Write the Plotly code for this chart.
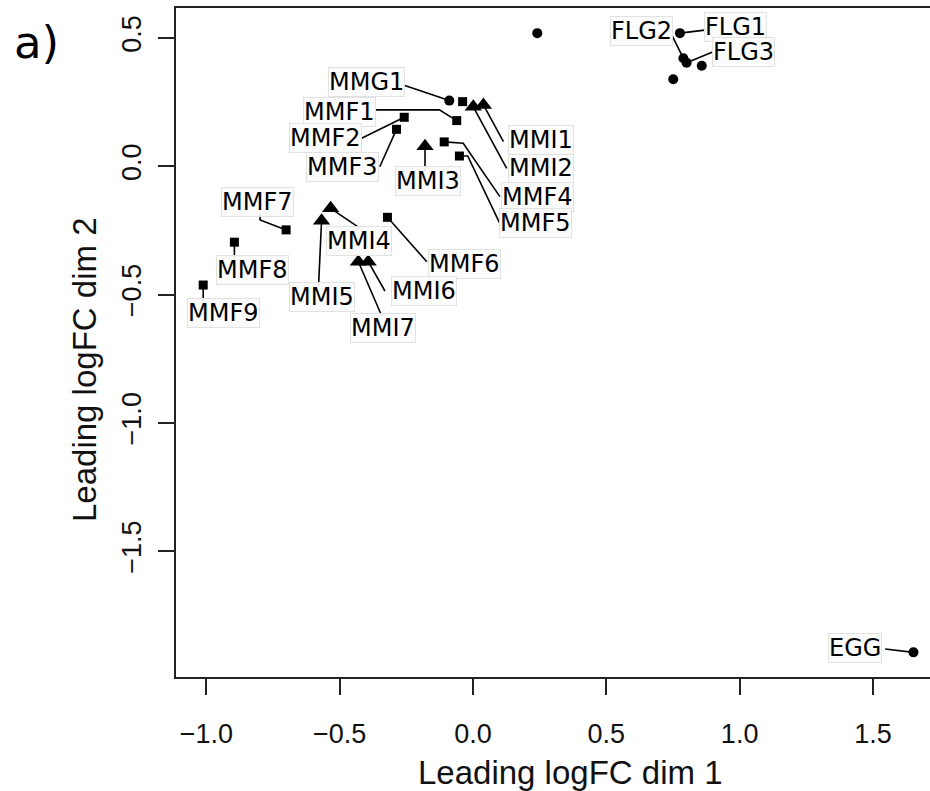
import plotly.graph_objects as go

# ---------------- data ----------------
labels = ["MMG1", "", "MMI2", "MMI1", "MMF1", "MMI3", "MMF4", "MMF5", "MMF2", "MMF3",
          "MMI4", "MMI5", "MMF6", "MMI7", "MMI6", "MMF7", "MMF8", "MMF9",
          "", "FLG1", "FLG2", "FLG3", "", "", "EGG"]
dim1 = [-0.089, -0.039, 0.001, 0.039, -0.061, -0.180, -0.108, -0.051, -0.258, -0.287,
        -0.534, -0.568, -0.321, -0.430, -0.393, -0.701, -0.895, -1.012,
        0.241, 0.776, 0.789, 0.801, 0.858, 0.751, 1.652]
dim2 = [0.256, 0.252, 0.232, 0.239, 0.178, 0.078, 0.095, 0.040, 0.191, 0.144,
        -0.164, -0.212, -0.199, -0.372, -0.372, -0.248, -0.296, -0.463,
        0.519, 0.519, 0.421, 0.404, 0.392, 0.339, -1.895]
group = ["circle", "square", "triangle", "triangle", "square", "triangle", "square", "square", "square", "square",
         "triangle", "triangle", "square", "triangle", "triangle", "square", "square", "square",
         "circle", "circle", "circle", "circle", "circle", "circle", "circle"]

x_tickvals = [-1.0, -0.5, 0.0, 0.5, 1.0, 1.5]
x_ticktext = ["\u22121.0", "\u22120.5", "0.0", "0.5", "1.0", "1.5"]
y_tickvals = [0.5, 0.0, -0.5, -1.0, -1.5]
y_ticktext = ["0.5", "0.0", "\u22120.5", "\u22121.0", "\u22121.5"]

x_title = "Leading logFC dim 1"
y_title = "Leading logFC dim 2"
panel_tag = "a)"

# ---------------- label placement (pixel offsets from point, screen y down) ----------------
label_layout = {
    "MMG1": ((-82.8, -18.2), [(-46, -15.7)]),
    "MMF1": ((-117.5, -9), [(-17.4, -10.7), (-81.7, -10.7)]),
    "MMF2": ((-78.5, 21), [(-42.6, 21)]),
    "MMF3": ((-54.2, 37.4), [(-16.7, 37.4)]),
    "MMI1": ((57.5, 35), [(20, 36.7)]),
    "MMI2": ((67.5, 61.6), [(33.4, 61.6)]),
    "MMI3": ((3.3, 35), [(0, 25)]),
    "MMF4": ((93.2, 54.7), [(19, 1.3), (55.7, 54.7)]),
    "MMF5": ((75.8, 66.6), [(8.3, 0), (40, 66.6)]),
    "MMI4": ((28.5, 32.5), [(29.6, 20)]),
    "MMI5": ((0, 76), [(-3, 65)]),
    "MMI6": ((55.9, 29.3), [(16.7, 29.3)]),
    "MMI7": ((24.2, 66), [(23.4, 54.3)]),
    "MMF6": ((76.7, 46.7), [(39.4, 44.4)]),
    "MMF7": ((-28.5, -27.5), [(-26, -10), (-26, -16.7)]),
    "MMF8": ((18.2, 27.7), [(0, 16)]),
    "MMF9": ((20, 28.3), [(0, 16.7)]),
    "FLG1": ((55.8, -5.8), [(26.7, -3.3)]),
    "FLG2": ((-41.6, -27.5), [(-11.6, -23.3)]),
    "FLG3": ((56.6, -10.2), [(26.6, -11)]),
    "EGG": ((-58.3, -4), [(-28.3, -3.3)]),
}

W, H = 930, 791
L, R, T, B = 176, 0, 8, 114

fig = go.Figure()

sym = {"circle": ("circle", 10), "square": ("square", 9), "triangle": ("triangle-up", 15)}
for g in ["circle", "square", "triangle"]:
    xs = [dim1[i] for i in range(len(dim1)) if group[i] == g]
    ys = [dim2[i] for i in range(len(dim2)) if group[i] == g]
    fig.add_trace(go.Scatter(
        x=xs, y=ys, mode="markers",
        marker=dict(symbol=sym[g][0], size=sym[g][1], color="black", line=dict(width=0)),
        showlegend=False, hoverinfo="skip"))

annotations = []
shapes = []
label_font = dict(family="DejaVu Sans, Verdana, sans-serif", size=24, color="black")
for i, lab in enumerate(labels):
    if not lab:
        continue
    (dx, dy), path_pts = label_layout[lab]
    annotations.append(dict(
        x=dim1[i], y=dim2[i], xref="x", yref="y", text=lab, showarrow=False,
        xshift=dx, yshift=-dy, xanchor="center", yanchor="middle",
        font=label_font, bgcolor="rgba(252,252,252,0.9)",
        bordercolor="#e2e2e2", borderwidth=1, borderpad=0))
    path = "M 0,0 " + " ".join("L %.1f,%.1f" % (px, -py) for px, py in path_pts)
    shapes.append(dict(
        type="path", xref="x", yref="y", xsizemode="pixel", ysizemode="pixel",
        xanchor=dim1[i], yanchor=dim2[i], path=path,
        line=dict(color="black", width=1.6), layer="below"))

axis_font = dict(family="Liberation Sans, Arial, sans-serif", size=27, color="#111111")
title_font = dict(family="Liberation Sans, Arial, sans-serif", size=33, color="#111111")

annotations.append(dict(
    text=x_title, xref="paper", yref="paper", x=(570 - L) / (W - L - R), y=0,
    yshift=-95, xanchor="center", yanchor="middle", showarrow=False, font=title_font))
annotations.append(dict(
    text=y_title, xref="paper", yref="paper", x=0, xshift=85 - L,
    y=(H - B - 370) / (H - B - T), xanchor="center", yanchor="middle",
    textangle=-90, showarrow=False, font=title_font))
annotations.append(dict(
    text=panel_tag, xref="paper", yref="paper", x=0, xshift=36 - L, y=1, yshift=-34,
    xanchor="center", yanchor="middle", showarrow=False,
    font=dict(family="DejaVu Sans, Verdana, sans-serif", size=45, color="black")))

fig.update_layout(
    width=W, height=H, margin=dict(l=L, r=R, t=T, b=B, pad=0),
    paper_bgcolor="white", plot_bgcolor="white",
    annotations=annotations, shapes=shapes,
    xaxis=dict(range=[-1.114, 1.714], tickvals=x_tickvals, ticktext=x_ticktext,
               ticks="outside", ticklen=16, tickwidth=2, tickcolor="#222",
               showline=True, linewidth=2, linecolor="#222", mirror=True,
               showgrid=False, zeroline=False, tickfont=axis_font, ticklabelstandoff=16),
    yaxis=dict(range=[-1.991, 0.617], tickvals=y_tickvals, ticktext=y_ticktext,
               ticks="outside", ticklen=16, tickwidth=2, tickcolor="#222",
               showline=True, linewidth=2, linecolor="#222", mirror=False,
               showgrid=False, zeroline=False, tickfont=axis_font, tickangle=-90,
               ticklabelstandoff=6),
)

fig.write_html("out.html")
